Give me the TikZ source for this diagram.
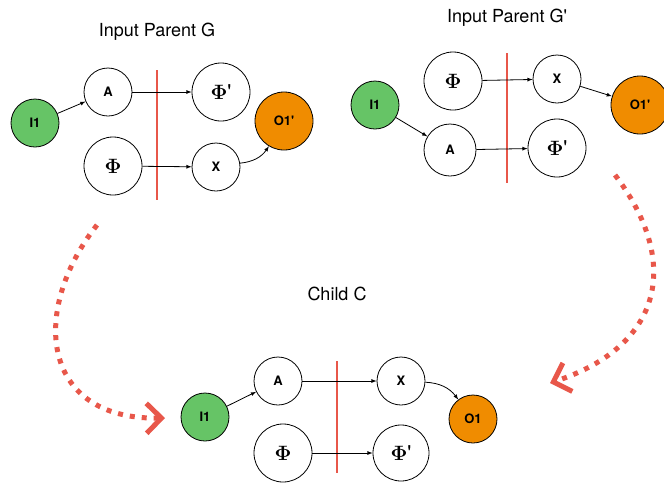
\documentclass[tikz,border=0pt]{standalone}
\usepackage[no-math]{fontspec}
\setmainfont{TeX Gyre Heros}
\usetikzlibrary{arrows,arrows.meta}
\definecolor{ingreen}{HTML}{66C466}
\definecolor{outorange}{HTML}{F08C00}
\definecolor{cutred}{HTML}{E8574A}
\newcommand{\tick}{\textquotesingle}
\tikzset{
  vx/.style={circle,draw,line width=0.8pt,inner sep=0pt,minimum size=48pt,font=\fontsize{13}{13}\selectfont\bfseries},
  phi/.style={vx,minimum size=58pt,font=\fontsize{21}{21}\selectfont},
  inp/.style={vx,fill=ingreen},
  outp/.style={vx,fill=outorange},
  cut/.style={cutred,line width=1.8pt},
  conn/.style={-latex,line width=0.8pt},
  move/.style={cutred,line width=5pt,dash pattern=on 5pt off 7pt,-{Straight Barb[length=15pt,width=30pt]}},
  title/.style={font=\fontsize{18}{18}\selectfont}
}
\begin{document}
\begin{tikzpicture}[x=1pt,y=-1pt]
\useasboundingbox (0,0) rectangle (664,483);
% parent G
\node[title](tg)at(157,32){Input Parent G};
\node[inp](gi)at(35,123){I1};
\node[vx](ga)at(108,92){A};
\node[phi](gp)at(113,166){$\mathbf{\Phi}$};
\node[phi](gq)at(221,92){$\mathbf{\Phi}$\tick};
\node[vx](gx)at(216,167){X};
\node[outp,minimum size=58pt](go)at(284,121){O1\tick};
\coordinate(gt)at(157,70);\coordinate(gb)at(157,200);
\draw[cut](gt)--(gb);
\draw[conn](gi)--(ga);
\draw[conn](ga)--(gq);
\draw[conn](gp)--(gx);
\draw[conn](gx)to[bend right=25](go);
% parent G'
\node[title](th)at(507,18){Input Parent G\tick};
\node[inp](hi)at(375,105){I1};
\node[phi](hp)at(453,81){$\mathbf{\Phi}$};
\node[vx](hx)at(557,79){X};
\node[vx,minimum size=52pt](ha)at(450,150){A};
\node[phi](hq)at(557,148){$\mathbf{\Phi}$\tick};
\node[outp,minimum size=58pt](ho)at(640,105){O1\tick};
\coordinate(ht)at(507,53);\coordinate(hb)at(507,183);
\draw[cut](ht)--(hb);
\draw[conn](hi)--(ha);
\draw[conn](hp)--(hx);
\draw[conn](hx)--(ho);
\draw[conn](ha)--(hq);
% child C
\node[title](tc)at(337,294){Child C};
\node[inp](ci)at(205,417){I1};
\node[vx](ca)at(278,381){A};
\node[phi](cp)at(283,453){$\mathbf{\Phi}$};
\node[vx](cx)at(401,381){X};
\node[phi,minimum size=56pt](cq)at(401,453){$\mathbf{\Phi}$\tick};
\node[outp](co)at(473,419){O1};
\coordinate(ct)at(337,361);\coordinate(cb)at(337,473);
\draw[cut](ct)--(cb);
\draw[conn](ci)--(ca);
\draw[conn](ca)--(cx);
\draw[conn](cp)--(cq);
\draw[conn](cx)to[bend left=25](co);
% crossover moves
\coordinate(ls)at(97,225);\coordinate(le)at(165,418);
\coordinate(rs)at(615,175);\coordinate(re)at(550,383);
\draw[move](ls)..controls(30,310)and(40,420)..(le);
\draw[move](rs)..controls(680,260)and(665,345)..(re);
\end{tikzpicture}
\end{document}
